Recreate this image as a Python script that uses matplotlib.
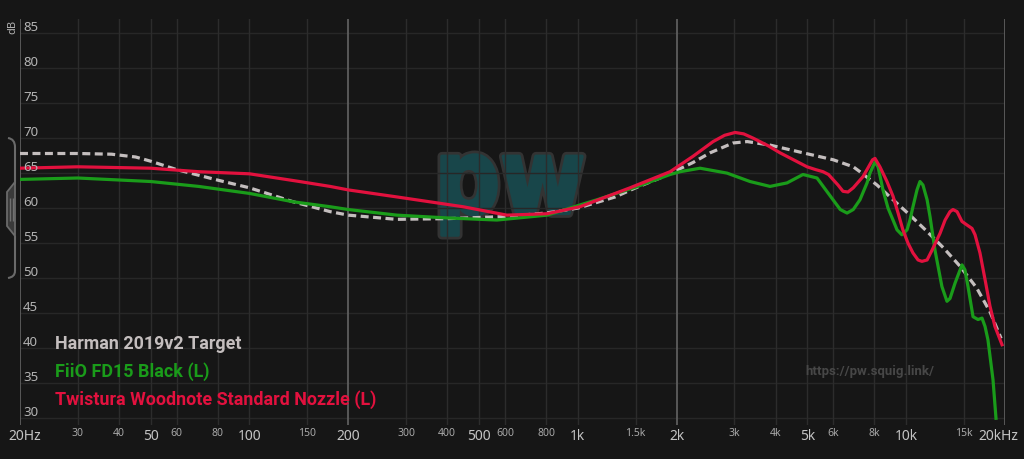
import numpy as np
import matplotlib.pyplot as plt
from matplotlib.path import Path
from matplotlib.patches import PathPatch
from matplotlib.textpath import TextPath
from matplotlib.font_manager import FontProperties
from matplotlib.transforms import Affine2D, IdentityTransform, blended_transform_factory

# Harman 2019v2 target (dashed)
harman_freq = [20, 30, 38, 45, 50, 60, 80, 100, 136, 176, 200, 280, 400, 600, 800, 1000,
               1300, 1500, 1780, 2000, 2240, 2530, 2970, 3280, 3850, 4850, 6000, 6900,
               7230, 8150, 9120, 10270, 11560, 13010, 14590, 16400, 18000, 19460]
harman_db = [67.8, 67.8, 67.7, 67.3, 66.7, 65.5, 64.0, 62.9, 60.9, 59.5, 59.0, 58.4, 58.5, 58.8, 59.3, 60.0,
             61.6, 62.9, 64.3, 65.4, 66.5, 67.9, 69.3, 69.5, 69.0, 67.9, 66.9, 65.9,
             65.2, 63.3, 61.2, 59.0, 56.7, 54.3, 51.7, 48.6, 45.2, 41.4]

# FiiO FD15 Black (L)
green_freq = [20, 30, 50, 70, 100, 136, 176, 200, 281, 400, 567, 806, 1144, 1500, 1910,
              2050, 2356, 2847, 3345, 3849, 4336, 4850, 5352, 5986, 6300, 6606, 6900, 7234,
              7600, 7760, 8036, 8210, 8500, 8806, 9120, 9380, 9700, 10060, 10270, 10490,
              10790, 11016, 11250, 11580, 11820, 12240, 12850, 13312, 13600, 14090, 14792,
              15100, 15430, 15984, 16550, 17022, 17390, 17746, 18386, 18776]
green_db = [64.1, 64.3, 63.8, 63.1, 62.1, 60.9, 60.2, 59.8, 59.0, 58.6, 58.3, 59.0, 61.2, 63.0, 64.8,
            65.2, 65.7, 65.0, 63.8, 63.1, 63.6, 64.8, 64.3, 61.2, 59.8, 59.3, 59.8, 61.2,
            63.6, 65.0, 66.6, 65.9, 62.6, 60.0, 58.3, 56.9, 56.2, 56.9, 58.3, 60.2,
            62.6, 63.8, 63.3, 61.2, 58.8, 54.0, 48.8, 46.7, 47.1, 49.3, 51.9,
            51.2, 48.8, 44.5, 44.1, 44.3, 43.1, 41.2, 35.5, 30.0]

# Twistura Woodnote Standard Nozzle (L)
red_freq = [20, 30, 50, 70, 100, 142, 176, 200, 281, 447, 608, 806, 1015, 1442, 1910,
            2243, 2582, 2800, 3013, 3200, 3416, 3800, 4128, 4990, 5300, 5582, 5800, 6200,
            6422, 6650, 6900, 7390, 7900, 8036, 8320, 8740, 9120, 9450, 9774, 10130, 10490,
            10870, 11170, 11580, 11990, 12680, 13140, 13600, 13890, 14290, 14790, 15312,
            15870, 16210, 16780, 17390, 18000, 18640, 19586]
red_db = [65.7, 65.9, 65.7, 65.2, 64.9, 63.8, 63.1, 62.6, 61.6, 60.2, 59.0, 59.2, 60.2, 62.9, 65.2,
          67.4, 69.5, 70.4, 70.8, 70.6, 70.0, 68.9, 67.9, 65.9, 65.5, 65.2, 64.8, 63.3,
          62.4, 62.3, 62.9, 64.5, 66.9, 67.1, 65.9, 63.8, 61.7, 59.3, 56.9, 55.0, 53.6,
          52.6, 52.4, 52.6, 54.0, 56.4, 58.3, 59.5, 59.8, 59.5, 58.1, 57.6,
          57.1, 56.2, 53.6, 49.8, 46.0, 43.1, 40.5]

legend_names = ['Harman 2019v2 Target', 'FiiO FD15 Black (L)', 'Twistura Woodnote Standard Nozzle (L)']
legend_colors = ['#c4bebe', '#1a9c1a', '#e2113e']

major_ticks = [20, 50, 100, 200, 500, 1000, 2000, 5000, 10000, 20000]
major_labels = ['20Hz', '50', '100', '200', '500', '1k', '2k', '5k', '10k', '20kHz']
minor_ticks = [30, 40, 60, 80, 150, 300, 400, 600, 800, 1500, 3000, 4000, 6000, 8000, 15000]
minor_labels = ['30', '40', '60', '80', '150', '300', '400', '600', '800', '1.5k', '3k', '4k', '6k', '8k', '15k']
db_ticks = [30, 35, 40, 45, 50, 55, 60, 65, 70, 75, 80, 85]

W, H = 1024, 459
BG = '#161616'
fig = plt.figure(figsize=(W / 100, H / 100), dpi=100, facecolor=BG)
ax = fig.add_axes([20 / W, 1 - 425 / H, 985 / W, 406 / H])
ax.set_facecolor(BG)
ax.set_xscale('log')
for s in ax.spines.values():
    s.set_visible(False)
ax.tick_params(which='both', length=0, labelbottom=False, labelleft=False)

# grid
for v in db_ticks:
    ax.axhline(v, color='#272727', lw=1, zorder=0.5)
bright = {20, 200, 2000, 20000}
for f in major_ticks + minor_ticks:
    if f in bright:
        ax.axvline(f, color='#5e5e5e', lw=1.3, zorder=0.6)
    else:
        ax.axvline(f, color='#2c2c2c', lw=1, zorder=0.5)

# pw watermark: rounded letters with a grey outline, under the grid
tp = TextPath((0, 0), 'pw', size=100, prop=FontProperties(family='DejaVu Sans', weight='bold'))
ext = tp.get_extents()
bx0, bx1, by0, by1 = 442, 582, 155, 235
logo_tr = Affine2D().translate(-ext.x0, -ext.y0).scale((bx1 - bx0) / ext.width,
                                                      (by1 - by0) / ext.height).translate(bx0, H - by1)
logo_path = logo_tr.transform_path(tp)
ax.add_artist(PathPatch(logo_path, facecolor='#333333', edgecolor='#333333', lw=9 * 0.72,
                        joinstyle='round', transform=IdentityTransform(), zorder=0.2))
ax.add_artist(PathPatch(logo_path, facecolor='#18464a', edgecolor='#18464a', lw=3.5 * 0.72,
                        joinstyle='round', transform=IdentityTransform(), zorder=0.3))

# curves
ax.plot(harman_freq, harman_db, color=legend_colors[0], lw=2.3, ls=(0, (2.5, 1.4)), zorder=3)
ax.plot(green_freq, green_db, color=legend_colors[1], lw=2.3, zorder=4, solid_joinstyle='round')
ax.plot(red_freq, red_db, color=legend_colors[2], lw=2.3, zorder=5, solid_joinstyle='round')

ax.set_xlim(20, 20000)
ax.set_ylim(29.04, 87.0)

# y tick labels inside
ytr = blended_transform_factory(ax.transAxes, ax.transData)
for v in db_ticks:
    ax.annotate(str(v), xy=(0.003, v), xycoords=ytr, xytext=(0, 6), textcoords='offset pixels',
                va='center', ha='left', color='#b4b4b4', fontsize=9.5, family='Noto Sans', zorder=6)

# x tick labels
xtr = blended_transform_factory(ax.transData, ax.transAxes)
for f, lab in zip(major_ticks, major_labels):
    dx = 0
    if lab == '20Hz':
        dx = 5
    elif lab == '20kHz':
        dx = -7
    ax.annotate(lab, xy=(f, 0), xycoords=xtr, xytext=(dx, -11), textcoords='offset pixels',
                ha='center', va='center', color='#c4c4c4', fontsize=10, family='Noto Sans',
                annotation_clip=False)
for f, lab in zip(minor_ticks, minor_labels):
    ax.annotate(lab, xy=(f, 0), xycoords=xtr, xytext=(0, -8), textcoords='offset pixels',
                ha='center', va='center', color='#a8a8a8', fontsize=7.5, family='Noto Sans',
                annotation_clip=False)

fig.text(13 / W, 1 - 27 / H, 'dB', rotation=90, ha='center', va='center',
         color='#b0b0b0', fontsize=8, family='Noto Sans')

# legend labels
for i, (name, col) in enumerate(zip(legend_names, legend_colors)):
    fig.text(55 / W, 1 - (344 + 28 * i) / H, name, color=col, fontsize=12.9,
             family='Roboto', weight='bold', ha='left', va='center')

fig.text(870 / W, 1 - 371 / H, 'https://pw.squig.link/', color='#474747', fontsize=9.5,
         family='Roboto', weight='bold', ha='center', va='center')

# side handle bracket
def px(x, y):
    return (x, H - y)

verts = [px(8, 138), px(15, 139), px(15, 147), px(15, 183), px(15, 271), px(15, 277), px(8, 278)]
codes = [Path.MOVETO, Path.CURVE3, Path.CURVE3, Path.LINETO, Path.MOVETO, Path.CURVE3, Path.CURVE3]
fig.add_artist(PathPatch(Path(verts, codes), facecolor='none', edgecolor='#6a6a6a', lw=1.5,
                         transform=IdentityTransform()))
tab = [px(15, 182), px(7, 192), px(7, 226), px(15, 236), px(15, 182)]
fig.add_artist(PathPatch(Path(tab, [Path.MOVETO] + [Path.LINETO] * 4), facecolor='#3a3a3a',
                         edgecolor='#6a6a6a', lw=1.3, transform=IdentityTransform()))
tab_lines = [px(10, 198), px(10, 221), px(12.5, 198), px(12.5, 221)]
fig.add_artist(PathPatch(Path(tab_lines, [Path.MOVETO, Path.LINETO, Path.MOVETO, Path.LINETO]),
                         facecolor='none', edgecolor='#707070', lw=1, transform=IdentityTransform()))
fig.add_artist(PathPatch(Path([px(15, 236), px(15, 271)], [Path.MOVETO, Path.LINETO]),
                         facecolor='none', edgecolor='#6a6a6a', lw=1.5, transform=IdentityTransform()))

fig.savefig('out.png', dpi=100, facecolor=BG)
